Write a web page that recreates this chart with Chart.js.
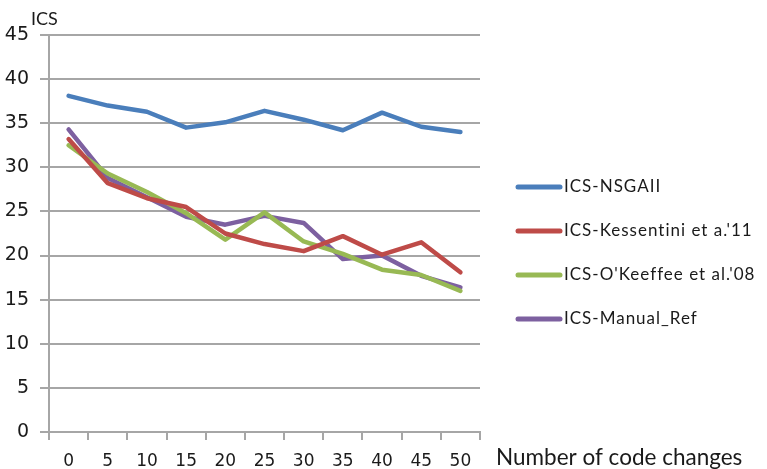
<!DOCTYPE html>
<html>
<head>
<meta charset="utf-8">
<script src="https://cdn.jsdelivr.net/npm/chart.js@4/dist/chart.umd.min.js"></script>
<style>
  html, body { margin: 0; padding: 0; background: #fff; }
  #wrap { width: 767px; height: 469px; }
</style>
</head>
<body>
<div id="wrap"><canvas id="grafico" width="767" height="469"></canvas></div>
<script>
// Número de cambios de código (eje x)
const cambios = ['0', '5', '10', '15', '20', '25', '30', '35', '40', '45', '50'];

// Valores ICS por técnica
const icsNsga = [38.1, 37.0, 36.3, 34.5, 35.1, 36.4, 35.4, 34.2, 36.2, 34.6, 34.0];
const icsKessentini = [33.2, 28.2, 26.5, 25.5, 22.5, 21.3, 20.5, 22.2, 20.1, 21.5, 18.1];
const icsOKeeffe = [32.5, 29.3, 27.2, 24.8, 21.8, 24.9, 21.6, 20.2, 18.4, 17.8, 16.0];
const icsManual = [34.3, 28.8, 26.6, 24.4, 23.5, 24.5, 23.7, 19.6, 20.0, 17.7, 16.4];

const etiquetas = ['ICS-NSGAII', "ICS-Kessentini et a.'11", "ICS-O'Keeffee et al.'08", 'ICS-Manual_Ref'];
const colores = ['#4a7ebb', '#be4b48', '#98b954', '#7d60a0'];

const gris = '#a6a6a6';

function serie(i, valores) {
    return {
        label: etiquetas[i],
        data: valores,
        borderColor: colores[i],
        backgroundColor: colores[i],
        borderWidth: 4.5,
        pointRadius: 0,
        tension: 0,
        borderCapStyle: 'round',
        borderJoinStyle: 'round'
    };
}

// Leyenda y títulos de ejes dibujados a mano
const textosExtra = {
    id: 'textosExtra',
    afterDraw(chart) {
        const ctx = chart.ctx;
        ctx.save();
        ctx.fillStyle = '#1a1a1a';
        ctx.textBaseline = 'middle';

        ctx.font = '18px Lato, "Liberation Sans", sans-serif';
        ctx.textAlign = 'left';
        ctx.fillText('ICS', 31, 19);

        ctx.font = '22.5px Lato, "Liberation Sans", sans-serif';
        ctx.fillText('Number of code changes', 496, 458);

        ctx.font = '17px Lato, "Liberation Sans", sans-serif';
        ctx.letterSpacing = '1px';
        chart.data.datasets.forEach((ds, i) => {
            const y = 187 + i * 44;
            ctx.strokeStyle = ds.borderColor;
            ctx.lineWidth = 5;
            ctx.lineCap = 'round';
            ctx.beginPath();
            ctx.moveTo(518, y);
            ctx.lineTo(560, y);
            ctx.stroke();
            ctx.fillText(ds.label, 564, y);
        });
        ctx.restore();
    }
};

const ctx = document.querySelector('#grafico').getContext('2d');
const myChart = new Chart(ctx, {
    type: 'line',
    data: {
        labels: cambios,
        datasets: [
            serie(0, icsNsga),
            serie(1, icsKessentini),
            serie(2, icsOKeeffe),
            serie(3, icsManual)
        ]
    },
    options: {
        responsive: false,
        animation: false,
        layout: { padding: { top: 35, right: 287, left: 0, bottom: 0 } },
        plugins: {
            legend: { display: false },
            tooltip: { enabled: false }
        },
        scales: {
            x: {
                type: 'category',
                offset: true,
                grid: {
                    offset: true,
                    drawOnChartArea: false,
                    color: gris,
                    lineWidth: 2,
                    tickLength: 8
                },
                border: { color: gris, width: 2 },
                ticks: {
                    color: '#1a1a1a',
                    padding: 11,
                    maxRotation: 0,
                    font: { family: 'DejaVu Sans', size: 17 }
                },
                afterFit(scale) { scale.height = 37; }
            },
            y: {
                min: 0,
                max: 45,
                ticks: {
                    stepSize: 5,
                    color: '#1a1a1a',
                    padding: 11,
                    font: { family: 'DejaVu Sans', size: 19 }
                },
                grid: { color: gris, lineWidth: 2, tickLength: 9 },
                border: { color: gris, width: 2 },
                afterFit(scale) { scale.width = 49; }
            }
        }
    },
    plugins: [textosExtra]
});
</script>
</body>
</html>
